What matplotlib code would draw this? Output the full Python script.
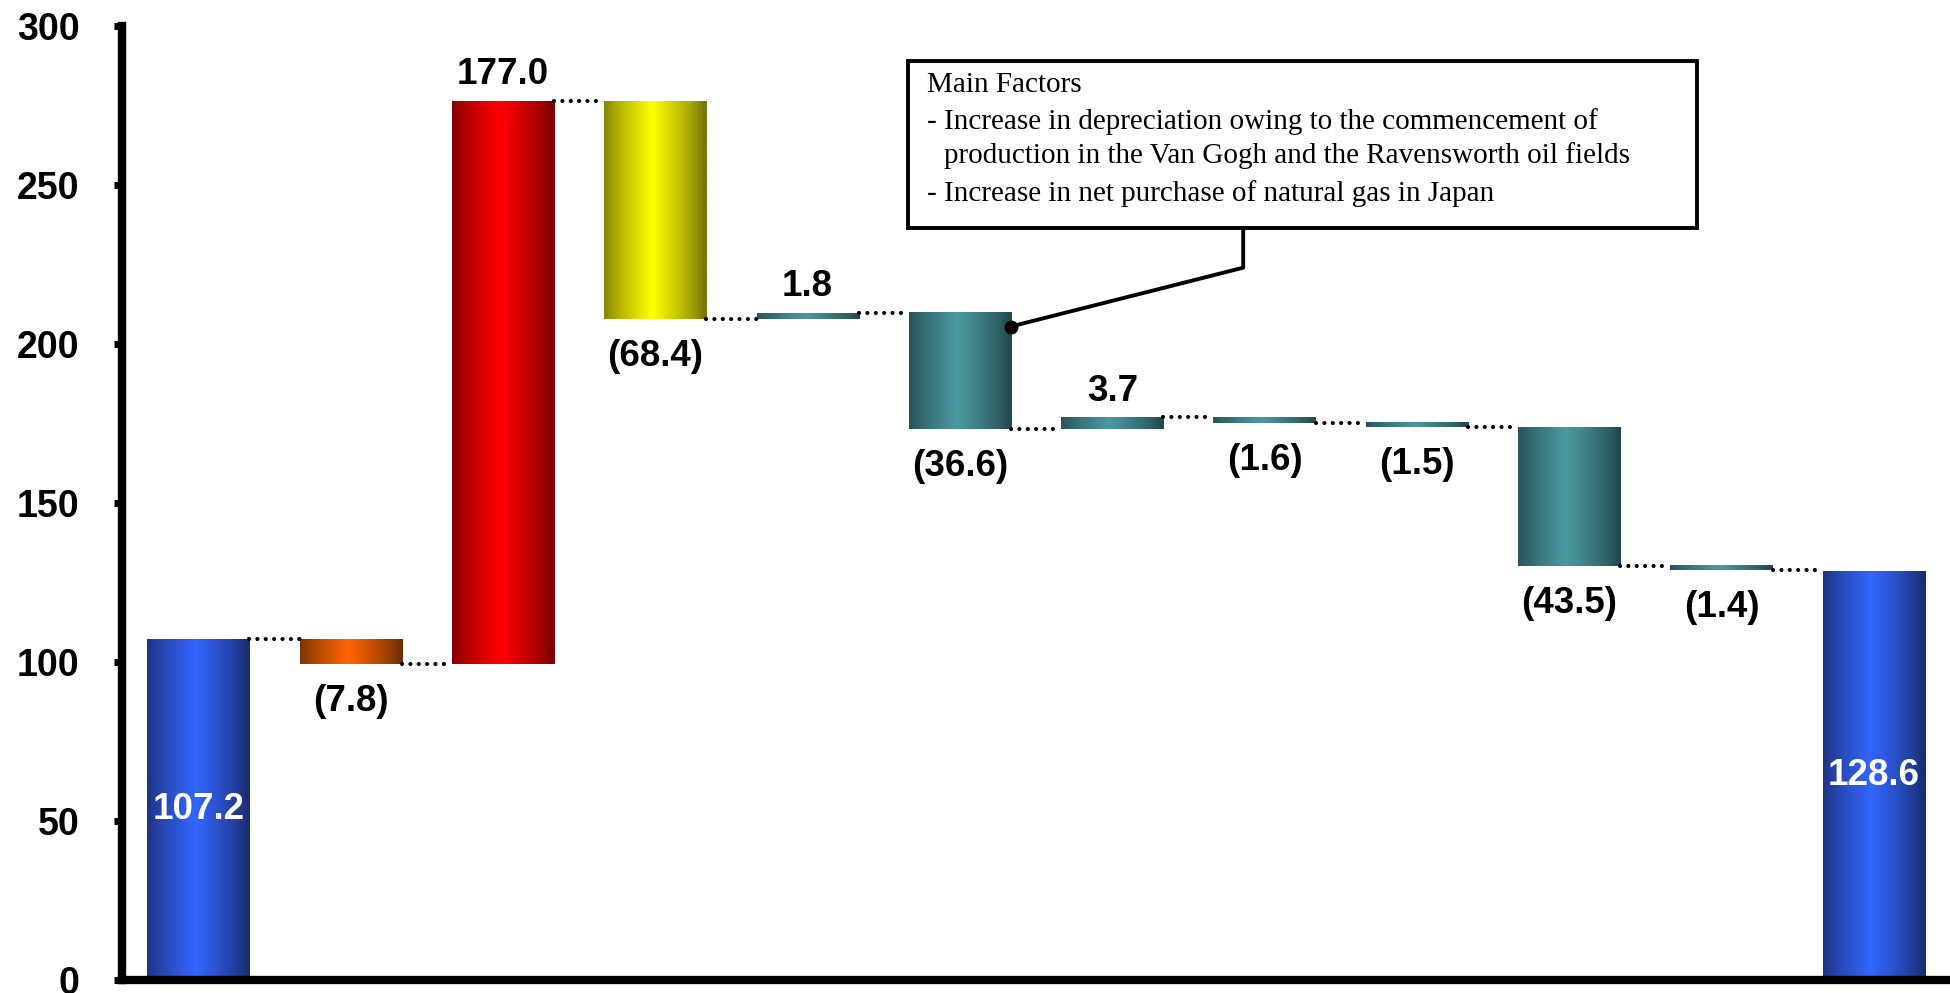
import matplotlib
matplotlib.use("Agg")
import matplotlib.pyplot as plt
import numpy as np
from matplotlib.colors import to_rgb
from matplotlib.patches import Rectangle

# waterfall data (billion yen)
start_value = 107.2
deltas = [-7.8, 177.0, -68.4, 1.8, -36.6, 3.7, -1.6, -1.5, -43.5, -1.4]
end_value = 128.6
bar_colors = ['blue', 'orange', 'red', 'yellow'] + ['teal'] * 7 + ['blue']
box_lines = [
    "Main Factors",
    "- Increase in depreciation owing to the commencement of",
    "production in the Van Gogh and the Ravensworth oil fields",
    "- Increase in net purchase of natural gas in Japan",
]

# edge colour, centre colour for the shaded bars
shades = {
    'blue': ('#1b2d72', '#3366ff'),
    'orange': ('#6e2f00', '#ff6600'),
    'red': ('#7a0000', '#ff0000'),
    'yellow': ('#77770a', '#ffff00'),
    'teal': ('#234a4f', '#4a9aa0'),
}


def shaded_bar(ax, x, bottom, top, width, key):
    edge, mid = np.array(to_rgb(shades[key][0])), np.array(to_rgb(shades[key][1]))
    t = np.linspace(0, 1, 200)
    w = np.clip(1 - np.abs(t - 0.47) / 0.5, 0, 1) ** 0.8
    img = edge[None, :] * (1 - w[:, None]) + mid[None, :] * w[:, None]
    ax.imshow(img[None, :, :], extent=(x - width / 2, x + width / 2, bottom, top),
              aspect='auto', interpolation='bilinear', zorder=2)


# build bar spans
bottoms, tops, labels = [0.0], [start_value], [f"{start_value:.1f}"]
level = start_value
levels = [level]
for d in deltas:
    new = level + d
    bottoms.append(min(level, new))
    tops.append(max(level, new))
    labels.append(f"{d:.1f}" if d > 0 else f"({-d:.1f})")
    level = new
    levels.append(level)
bottoms.append(0.0)
tops.append(end_value)
labels.append(f"{end_value:.1f}")

fig = plt.figure(figsize=(19.5, 9.93), dpi=100)
ax = fig.add_axes([0.0626, 0.0131, 0.9374, 0.9607])
width = 0.67
n = len(tops)

for i in range(n):
    shaded_bar(ax, i, bottoms[i], tops[i], width, bar_colors[i])

# dotted connectors between bars
for i in range(n - 1):
    ax.plot([i + width / 2, i + 1 - width / 2], [levels[i], levels[i]],
            linestyle=(0, (0.01, 2.0)), color='black', lw=3.0, dash_capstyle='round', zorder=3)

# value labels
num_font = dict(family='Liberation Sans', fontweight='bold', fontsize=26.5)
for i in range(n):
    if i == 0 or i == n - 1:
        ax.text(i, tops[i] / 2, labels[i], ha='center', va='center', color='white', zorder=4, **num_font)
    elif deltas[i - 1] > 0:
        ax.annotate(labels[i], (i, tops[i]), xytext=(0, 19), textcoords='offset points',
                    ha='center', va='center', **num_font)
    else:
        ax.annotate(labels[i], (i, bottoms[i]), xytext=(0, -27), textcoords='offset points',
                    ha='center', va='center', **num_font)

# call-out box
ax.add_patch(Rectangle((4.66, 236.5), 5.18, 52.5, fill=False, lw=2.8, edgecolor='black', zorder=5))
serif = dict(family='Liberation Serif', fontsize=21)
ax.text(4.787, 281.5, box_lines[0], va='center', **serif)
ax.text(4.787, 270.0, box_lines[1], va='center', **serif)
ax.text(4.898, 259.3, box_lines[2], va='center', **serif)
ax.text(4.787, 247.4, box_lines[3], va='center', **serif)
ax.plot([5 + width / 2, 6.86, 6.86], [205.5, 224, 236.5], color='black', lw=2.8, zorder=5)
ax.plot([5 + width / 2], [205.5], 'o', color='black', ms=9, zorder=6)

ax.set_xlim(-0.5, n - 0.5)
ax.set_ylim(0, 300)
ax.set_yticks(np.arange(0, 301, 50))
ax.set_xticks([])
for lbl in ax.get_yticklabels():
    lbl.set_fontfamily('Liberation Sans')
    lbl.set_fontweight('bold')
    lbl.set_fontsize(27)
ax.tick_params(axis='y', length=6, width=5, pad=24.5, direction='out')
ax.spines['top'].set_visible(False)
ax.spines['right'].set_visible(False)
ax.spines['left'].set_linewidth(6)
ax.spines['bottom'].set_linewidth(6)
ax.spines['left'].set_capstyle('projecting')

fig.savefig('out.png', dpi=100)
